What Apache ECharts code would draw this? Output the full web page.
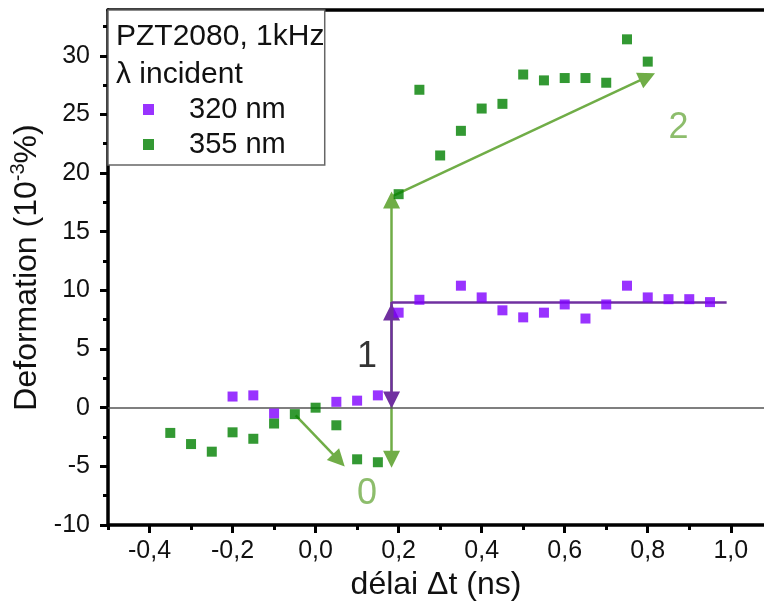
<!DOCTYPE html>
<html><head><meta charset="utf-8">
<script src="https://cdn.jsdelivr.net/npm/echarts@6/dist/echarts.min.js"></script>
<style>html,body{margin:0;padding:0;background:#fff}#c{width:764px;height:611px}</style>
</head><body><div id="c"></div>
<script>
// ---- data ----
const delay320 = [-0.2, -0.15, -0.1, 0.05, 0.1, 0.15, 0.2, 0.25, 0.35, 0.4, 0.45, 0.5, 0.55, 0.6, 0.65, 0.7, 0.75, 0.8, 0.85, 0.9, 0.95];
const def320   = [0.95, 1.05, -0.5, 0.5, 0.6, 1.05, 8.1, 9.2, 10.4, 9.4, 8.3, 7.7, 8.1, 8.8, 7.6, 8.8, 10.4, 9.4, 9.25, 9.25, 9.0];
const delay355 = [-0.35, -0.3, -0.25, -0.2, -0.15, -0.1, -0.05, 0.0, 0.05, 0.1, 0.15, 0.2, 0.25, 0.3, 0.35, 0.4, 0.45, 0.5, 0.55, 0.6, 0.65, 0.7, 0.75, 0.8];
const def355   = [-2.15, -3.1, -3.75, -2.1, -2.65, -1.35, -0.55, 0.0, -1.5, -4.4, -4.65, 18.2, 27.1, 21.5, 23.6, 25.5, 25.9, 28.4, 27.9, 28.1, 28.1, 27.7, 31.4, 29.5];
const xMajorTicks = [-0.4, -0.2, 0.0, 0.2, 0.4, 0.6, 0.8, 1.0];
const xMinorTicks = [-0.5, -0.3, -0.1, 0.1, 0.3, 0.5, 0.7, 0.9];
const yMajorTicks = [-10, -5, 0, 5, 10, 15, 20, 25, 30];
const yMinorTicks = [-7.5, -2.5, 2.5, 7.5, 12.5, 17.5, 22.5, 27.5, 32.5];
// annotation arrows [x0,y0,x1,y1] (end values = arrowhead centres)
const arrowStep0 = [-0.048, -0.65, 0.056, -4.49];
const arrowStep2 = [0.183, 18.0, 0.799, 28.2];
const arrowGreenV = [0.183, -4.4, 0.183, 17.7];
const arrowPurpleV = [0.183, 0.65, 0.183, 8.15];
const plateau320 = [0.183, 9.0, 0.99, 9.0];
const purpleJoin = [0.183, 8.15, 0.183, 9.0];
const stepLabels = [
  {text: '0', x: 0.124, y: -7.4, color: '#70AD47'},
  {text: '1', x: 0.124, y: 4.3, color: '#000000'},
  {text: '2', x: 0.874, y: 23.8, color: '#70AD47'}
];

const FONT = 'Liberation Sans, Arial, sans-serif';
const TXT = '#111';
const ARROW = 'path://M0,0 L10,0 L5,-9 Z';
const pts = (xs, ys) => xs.map((x, i) => [x, ys[i]]);
const seg = a => ({coords: [[a[0], a[1]], [a[2], a[3]]]});
const fmt = v => (Math.abs(v) < 1e-9 ? 0 : v).toFixed(1).replace('.', ',');

const chart = echarts.init(document.getElementById('c'), null, {renderer: 'canvas'});
const xBase = {type: 'value', min: -0.5, max: 1.08, splitLine: {show: false}};
const yBase = {type: 'value', min: -10, max: 33.9, splitLine: {show: false}};
chart.setOption({
  animation: false,
  backgroundColor: '#fff',
  grid: {left: 108, top: 10, right: 0, bottom: 86, containLabel: false},
  title: {
    text: 'PZT2080, 1kHz\nλ incident',
    left: 111, top: 13, z: 10,
    textStyle: {fontFamily: FONT, fontSize: 30, fontWeight: 'normal', color: TXT, lineHeight: 38}
  },
  legend: {
    left: 108, top: 10, orient: 'vertical',
    data: ['320 nm', '355 nm'],
    backgroundColor: '#fff', borderColor: '#666', borderWidth: 1.5,
    padding: [85, 39, 6, 35], itemGap: 6,
    itemWidth: 11, itemHeight: 11,
    textStyle: {fontFamily: FONT, fontSize: 29, color: TXT, padding: [0, 0, 0, 30]}
  },
  xAxis: [
    Object.assign({}, xBase, {
      position: 'bottom',
      name: 'délai Δt (ns)', nameLocation: 'middle', nameGap: 42,
      nameTextStyle: {fontFamily: FONT, fontSize: 32, color: TXT},
      axisLine: {show: true, onZero: false, lineStyle: {color: '#000', width: 3.5}},
      axisTick: {show: true, customValues: xMajorTicks, length: 8, lineStyle: {color: '#000', width: 3}},
      axisLabel: {customValues: xMajorTicks, formatter: fmt, margin: 14, fontFamily: FONT, fontSize: 25, color: TXT}
    }),
    Object.assign({}, xBase, {
      position: 'bottom',
      axisLine: {show: false, onZero: false},
      axisTick: {show: true, customValues: xMinorTicks, length: 5, lineStyle: {color: '#000', width: 3}},
      axisLabel: {show: false}
    }),
    Object.assign({}, xBase, {
      position: 'top',
      axisLine: {show: true, onZero: false, lineStyle: {color: '#000', width: 3.5}},
      axisTick: {show: false}, axisLabel: {show: false}
    })
  ],
  yAxis: [
    Object.assign({}, yBase, {
      position: 'left',
      name: 'Deformation (10{sup|-3}%)', nameLocation: 'middle', nameGap: 62,
      nameTextStyle: {fontFamily: FONT, fontSize: 32, color: TXT,
        rich: {sup: {fontFamily: FONT, fontSize: 20, color: TXT, verticalAlign: 'top', lineHeight: 36}}},
      axisLine: {show: true, onZero: false, lineStyle: {color: '#000', width: 3.5}},
      axisTick: {show: true, customValues: yMajorTicks, length: 8, lineStyle: {color: '#000', width: 3}},
      axisLabel: {customValues: yMajorTicks, margin: 18, fontFamily: FONT, fontSize: 25, color: TXT}
    }),
    Object.assign({}, yBase, {
      position: 'left',
      axisLine: {show: false, onZero: false},
      axisTick: {show: true, customValues: yMinorTicks, length: 5, lineStyle: {color: '#000', width: 3}},
      axisLabel: {show: false}
    })
  ],
  series: [
    {
      name: 'zero', type: 'line', data: [], silent: true,
      markLine: {silent: true, symbol: ['none', 'none'], label: {show: false},
        lineStyle: {color: '#555', width: 1.5, type: 'solid'}, data: [{yAxis: 0}]}
    },
    {
      type: 'lines', coordinateSystem: 'cartesian2d', silent: true, z: 3,
      lineStyle: {color: '#70AD47', width: 2.5, opacity: 1},
      symbol: ['none', ARROW], symbolSize: 17,
      data: [seg(arrowStep0), seg(arrowStep2)]
    },
    {
      type: 'lines', coordinateSystem: 'cartesian2d', silent: true, z: 3,
      lineStyle: {color: '#70AD47', width: 2.5, opacity: 1},
      symbol: [ARROW, ARROW], symbolSize: 17,
      data: [seg(arrowGreenV)]
    },
    {
      type: 'lines', coordinateSystem: 'cartesian2d', silent: true, z: 4,
      lineStyle: {color: '#7030A0', width: 2.5, opacity: 1},
      symbol: [ARROW, ARROW], symbolSize: 17,
      data: [seg(arrowPurpleV)]
    },
    {
      type: 'lines', coordinateSystem: 'cartesian2d', silent: true, z: 4,
      lineStyle: {color: '#7030A0', width: 2.5, opacity: 1},
      symbol: ['none', 'none'],
      data: [seg(plateau320), seg(purpleJoin)]
    },
    {
      name: '320 nm', type: 'scatter', symbol: 'rect', symbolSize: 10, z: 5,
      itemStyle: {color: '#7F00FF'}, data: pts(delay320, def320)
    },
    {
      name: '355 nm', type: 'scatter', symbol: 'rect', symbolSize: 10, z: 5,
      itemStyle: {color: '#008000'}, data: pts(delay355, def355)
    },
    {
      type: 'scatter', symbolSize: 0, silent: true, z: 6,
      data: stepLabels.map(s => ({value: [s.x, s.y], label: {show: true, position: 'inside', formatter: s.text,
        fontFamily: FONT, fontSize: 36, color: s.color}}))
    }
  ]
});
</script></body></html>
